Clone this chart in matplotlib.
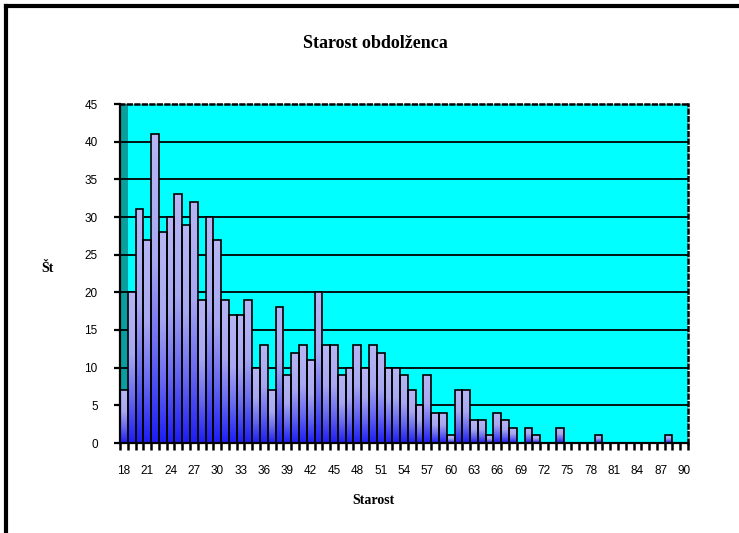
import numpy as np
import matplotlib
matplotlib.use('Agg')
import matplotlib.pyplot as plt
from matplotlib.colors import LinearSegmentedColormap
from matplotlib.patches import Rectangle
from matplotlib.lines import Line2D

# Podatki: starost obdolženca (18-90) in število obdolžencev
starost = list(range(18, 91))
stevilo = [7, 20, 31, 27, 41, 28, 30, 33, 29, 32,
           19, 30, 27, 19, 17, 17, 19, 10, 13, 7,
           18, 9, 12, 13, 11, 20, 13, 13, 9, 10,
           13, 10, 13, 12, 10, 10, 9, 7, 5, 9,
           4, 4, 1, 7, 7, 3, 3, 1, 4, 3,
           2, 0, 2, 1, 0, 0, 2, 0, 0, 0,
           0, 1, 0, 0, 0, 0, 0, 0, 0, 0,
           1, 0, 0]
x_oznake = [str(s) if (s - 18) % 3 == 0 else '' for s in starost]
y_ticks = [0, 5, 10, 15, 20, 25, 30, 35, 40, 45]

W, H = 739, 533
fig = plt.figure(figsize=(W / 100, H / 100), dpi=100)
fig.patch.set_facecolor('white')

# okvir grafa (levo in zgoraj)
fig.add_artist(Line2D([6 / W, 6 / W], [0, 1 - 6 / H], color='black', lw=3,
                      transform=fig.transFigure))
fig.add_artist(Line2D([6 / W, 1], [1 - 6 / H, 1 - 6 / H], color='black', lw=3,
                      transform=fig.transFigure))

ax = fig.add_axes([120 / W, 1 - 443 / H, (688 - 120) / W, (443 - 104) / H])
ax.set_facecolor('#00FFFF')

n = len(starost)
xs = np.arange(n)

# stranska stena (temnejša)
ax.add_patch(Rectangle((0, 0), 0.014, 1, transform=ax.transAxes,
                       facecolor='#0A9E9E', edgecolor='none', zorder=0.5))

for g in y_ticks[1:-1]:
    ax.axhline(g, color='black', lw=1.3, zorder=1)

# gradient za stolpce
cmap = LinearSegmentedColormap.from_list(
    'stolpci', [(0.0, '#1E1EF5'), (0.3, '#6A6AF0'), (0.6, '#A8A8F2'), (1.0, '#B6B6F4')])
grad = np.linspace(0, 1, 64).reshape(-1, 1)

for x, v in zip(xs, stevilo):
    if v <= 0:
        continue
    rect = Rectangle((x - 0.5, 0), 1.0, v, facecolor='none', edgecolor='black',
                     lw=1.2, zorder=3)
    ax.add_patch(rect)
    im = ax.imshow(grad, cmap=cmap, aspect='auto', origin='lower',
                   extent=(x - 0.5, x + 0.5, 0, v), zorder=2, interpolation='bilinear')
    im.set_clip_path(rect)

ax.set_xlim(-0.5, n - 0.5)
ax.set_ylim(0, 45)

# osi
ax.spines['left'].set_linewidth(1.6)
ax.spines['bottom'].set_linewidth(1.6)
for s in ['top', 'right']:
    ax.spines[s].set_linestyle((0, (1.5, 1.5)))
    ax.spines[s].set_linewidth(1.8)

ax.set_xticks(np.arange(-0.5, n, 1.0))
ax.set_xticklabels([])
ax.tick_params(axis='x', which='major', length=5, width=1.8, direction='out')
ax.set_xticks(xs, minor=True)
ax.set_xticklabels(x_oznake, minor=True, fontsize=8.5, family='Liberation Sans')
ax.tick_params(axis='x', which='minor', length=0, pad=16)

ax.set_yticks(y_ticks)
ax.set_yticklabels([str(t) for t in y_ticks], fontsize=8.5, family='Liberation Sans')
ax.tick_params(axis='y', length=4, width=1.6, direction='out', pad=12)

fig.text(375 / W, 1 - 43 / H, 'Starost obdolženca', ha='center', va='center',
         fontsize=13, fontweight='bold', family='Liberation Serif')
fig.text(373 / W, 1 - 500 / H, 'Starost', ha='center', va='center',
         fontsize=10, fontweight='bold', family='Liberation Serif')
fig.text(47 / W, 1 - 268 / H, 'Št', ha='center', va='center',
         fontsize=10, fontweight='bold', family='Liberation Serif')

fig.savefig('out.png', dpi=100)
